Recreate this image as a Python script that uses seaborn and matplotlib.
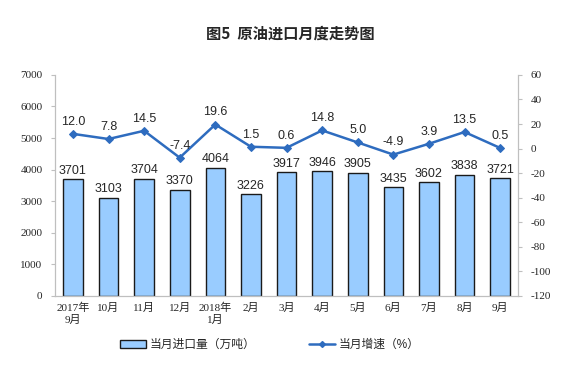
import numpy as np
import pandas as pd
import seaborn as sns
import matplotlib.pyplot as plt
from matplotlib.lines import Line2D
from matplotlib.patches import Patch

months = ["2017年\n9月", "10月", "11月", "12月", "2018年\n1月", "2月", "3月",
          "4月", "5月", "6月", "7月", "8月", "9月"]
imports = [3701, 3103, 3704, 3370, 4064, 3226, 3917, 3946, 3905, 3435, 3602, 3838, 3721]
growth = [12.0, 7.8, 14.5, -7.4, 19.6, 1.5, 0.6, 14.8, 5.0, -4.9, 3.9, 13.5, 0.5]

bar_color = "#99ccff"
line_color = "#2e6cbf"
serif = ["Liberation Serif", "Noto Sans CJK SC"]
sans = ["Liberation Sans", "Noto Sans CJK SC"]

sns.set_style("white")
plt.rcParams["font.family"] = sans
plt.rcParams["axes.unicode_minus"] = False

df = pd.DataFrame({"month": months, "imports": imports, "growth": growth})
df["pos"] = np.arange(len(df))

fig = plt.figure(figsize=(5.8, 3.69), dpi=100)
ax = fig.add_axes([0.095, 0.198, 0.798, 0.599])

sns.barplot(data=df, x="month", y="imports", color=bar_color, width=0.55,
            edgecolor="#1a1a1a", linewidth=1.0, saturation=1, ax=ax)
ax.set_xlim(-0.5, len(df) - 0.5)
ax.set_ylim(0, 7000)
ax.set_yticks(range(0, 7001, 1000))
ax.set_xlabel("")
ax.set_ylabel("")
for i, v in enumerate(imports):
    ax.text(i, v + 80, str(v), ha="center", va="bottom", fontsize=9,
            family=sans)

ax2 = ax.twinx()
sns.lineplot(data=df, x="pos", y="growth", color=line_color, marker="D",
             markersize=4, markeredgecolor=line_color, linewidth=1.8, ax=ax2)
ax2.set_ylim(-120, 60)
ax2.set_yticks(range(-120, 61, 20))
ax2.set_xlim(-0.5, len(df) - 0.5)
ax2.set_xlabel("")
ax2.set_ylabel("")
for i, v in enumerate(growth):
    ax2.text(i, v + 5, f"{v:.1f}", ha="center", va="bottom", fontsize=9,
             family=sans)

for a in (ax, ax2):
    for s in a.spines.values():
        s.set_color("#bfbfbf")
    a.spines["top"].set_visible(False)
ax.tick_params(axis="y", length=3, color="#bfbfbf", labelsize=8, pad=6)
ax2.tick_params(axis="y", length=3, color="#bfbfbf", labelsize=8, pad=6)
ax.tick_params(axis="x", length=0, labelsize=8, pad=5)
ax.set_xticks(np.arange(-0.5, len(df), 1.0), minor=True)
ax.tick_params(axis="x", which="minor", length=3, color="#bfbfbf", direction="out")
for lbl in ax.get_yticklabels() + ax2.get_yticklabels() + ax.get_xticklabels():
    lbl.set_family(serif)

fig.text(0.5, 0.91, "图5  原油进口月度走势图", ha="center", va="center",
         fontsize=11, fontweight="bold", family=["Noto Sans CJK SC"])

handles = [Patch(facecolor=bar_color, edgecolor="#1a1a1a", linewidth=1.0),
           Line2D([0], [0], color=line_color, marker="D", markersize=3, linewidth=1.8)]
fig.legend(handles, ["当月进口量（万吨）", "当月增速（%）"], loc="center",
           bbox_to_anchor=(0.465, 0.065), ncol=2, frameon=False, fontsize=8.5,
           columnspacing=4.6, handlelength=2.2, handletextpad=0.3)

fig.savefig("out.png", dpi=100)
